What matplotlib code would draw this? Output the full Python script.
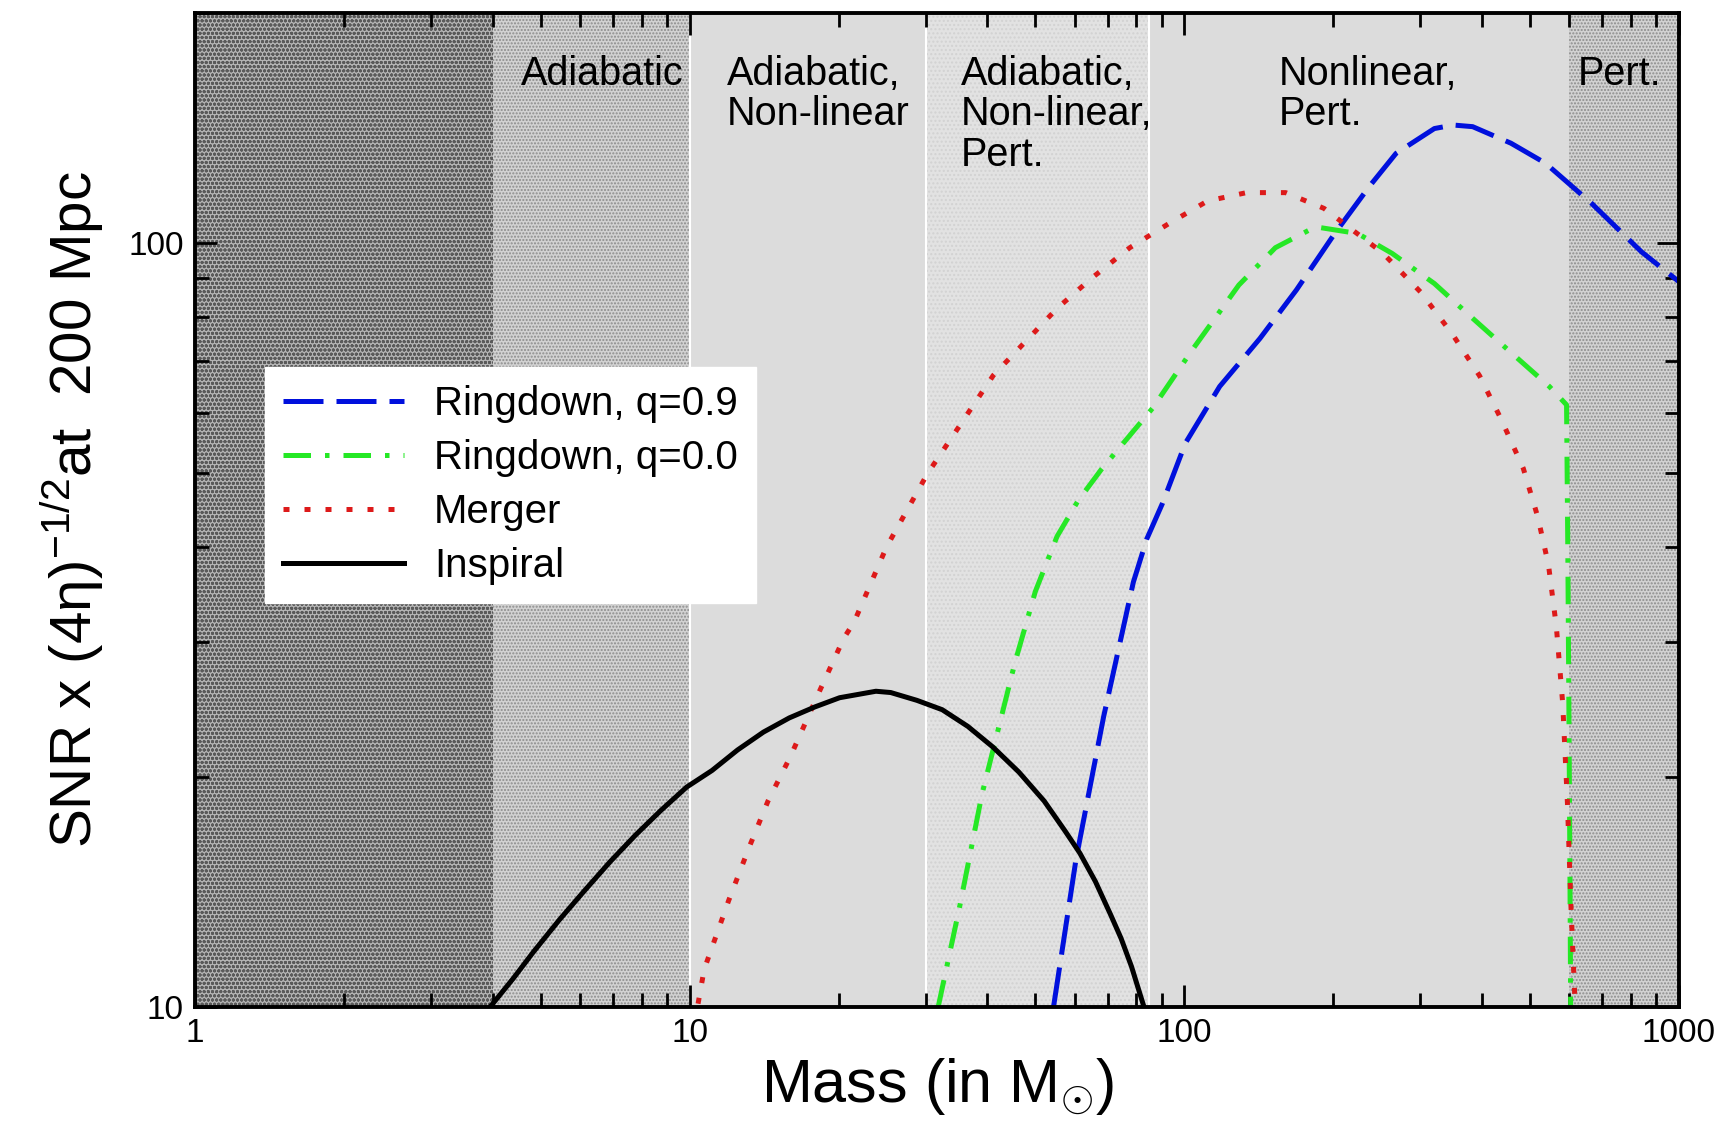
import matplotlib
matplotlib.use("Agg")
import matplotlib.pyplot as plt
from matplotlib.ticker import NullFormatter

plt.rcParams['font.family'] = ['Liberation Sans', 'DejaVu Sans']
plt.rcParams['mathtext.fontset'] = 'custom'
plt.rcParams['mathtext.rm'] = 'Liberation Sans'
plt.rcParams['mathtext.it'] = 'Liberation Sans'
plt.rcParams['hatch.linewidth'] = 1.0

# Inspiral (black solid)
insp_mass = [3.95, 4.40, 4.83, 5.45, 6.13, 6.91, 7.78, 8.76, 9.86, 11.1, 12.5, 14.1, 15.9, 17.9,
             20.1, 23.8, 25.5, 28.8, 32.4, 36.5, 41.0, 46.3, 52.1, 57.4, 61.5, 66.1, 71.0, 74.5,
             78.2, 82.9]
insp_snr = [10.0, 10.9, 11.8, 13.0, 14.2, 15.5, 16.8, 18.1, 19.4, 20.4, 21.7, 22.9, 23.9, 24.7,
            25.4, 25.9, 25.8, 25.2, 24.5, 23.3, 21.9, 20.3, 18.6, 17.0, 15.9, 14.6, 13.2, 12.3,
            11.3, 10.0]

# Merger (red dotted)
merg_mass = [10.4, 10.7, 12.0, 13.2, 14.4, 16.0, 18.3, 20.5, 21.5, 25.0, 30.2, 41.1, 55.3, 64.9,
             77.6, 93.2, 111.4, 133.6, 160.3, 191.6, 251.6, 300.7, 348.7, 395.4, 437.6, 484.5,
             518.3, 544.8, 565, 582, 595, 605, 617]
merg_snr = [10.1, 11.2, 13.8, 16.2, 18.6, 21.3, 25.9, 30.4, 31.9, 40.0, 49.8, 67.1, 82.1, 89.9,
            98.6, 106.1, 113.5, 116.4, 116.4, 111.0, 97.1, 86.2, 75.9, 67.0, 58.7, 50.7,
            43.8, 37.9, 31.5, 25.0, 18.5, 13.5, 10.0]

# Ringdown q=0.0 (green dash-dot)
rd0_mass = [31.8, 35.2, 39.0, 45.5, 50.0, 55.3, 61.0, 67.9, 86.3, 103.2, 128.9, 152.8, 184.1,
            224.2, 263.2, 320.3, 382.8, 457.4, 546.9, 592.6, 596, 599, 602, 604]
rd0_snr = [10.0, 13.6, 19.0, 28.3, 35.0, 41.3, 46.0, 50.5, 60.8, 72.1, 88.1, 98.6, 105.0,
           102.9, 96.9, 88.5, 79.7, 71.9, 64.9, 61.4, 40.0, 25.0, 15.0, 10.0]

# Ringdown q=0.9 (blue dashed)
rd9_mass = [54.4, 60.4, 68.7, 78.9, 84.0, 90.3, 100.5, 117.9, 142.2, 168.5, 201.4, 236.4, 267.9,
            320.3, 349.9, 382.8, 457.4, 537.1, 665.7, 839.5, 1000]
rd9_snr = [10.0, 15.6, 24.0, 36.0, 41.0, 45.6, 54.7, 64.9, 75.0, 86.8, 102.9, 118.5, 131.0,
           141.2, 142.7, 142.0, 135.1, 127.2, 112.7, 97.4, 89.0]

# Regime bands
band_edges = [1, 4, 10, 30, 85, 600, 1000]
band_labels = ["", "Adiabatic", "Adiabatic,\nNon-linear", "Adiabatic,\nNon-linear,\nPert.",
               "Nonlinear,\nPert.", "Pert."]
label_x = [None, 4.55, 11.9, 35.4, 155, 625]

band_face = ['#b4b4b4', '#d2d2d2', '#dcdcdc', '#e2e2e2', '#dcdcdc', '#d2d2d2']
band_hatch = ['oooo', '.....', None, '....', None, '.....']
band_hatch_col = ['#5a5a5a', '#8c8c8c', None, '#d2d2d2', None, '#8c8c8c']

fig = plt.figure(figsize=(17.3, 11.33), dpi=100)
ax = fig.add_axes([0.1127, 0.1112, 0.8578, 0.8773])

for i in range(len(band_edges) - 1):
    ax.axvspan(band_edges[i], band_edges[i + 1], facecolor=band_face[i],
               hatch=band_hatch[i], edgecolor=band_hatch_col[i] or band_face[i],
               linewidth=0, zorder=0)
for xb in [10, 30, 85]:
    ax.axvline(xb, color='white', lw=1.5, zorder=1)

for i, lab in enumerate(band_labels):
    if lab:
        ax.text(label_x[i], 0.958, lab, transform=ax.get_xaxis_transform(),
                ha='left', va='top', fontsize=28.5, linespacing=1.09, zorder=3)

ax.plot(rd9_mass, rd9_snr, color='#0010dd', lw=3.6, dashes=(8, 2.6),
        label='Ringdown, q=0.9', zorder=4)
ax.plot(rd0_mass, rd0_snr, color='#25e825', lw=3.6, dashes=(5.5, 2.8, 0.9, 2.8),
        label='Ringdown, q=0.0', zorder=4)
ax.plot(merg_mass, merg_snr, color='#dd1a1a', lw=3.6, dashes=(1.2, 3.0),
        label='Merger', zorder=4)
ax.plot(insp_mass, insp_snr, color='black', lw=3.6, label='Inspiral', zorder=4)

ax.set_xscale('log')
ax.set_yscale('log')
ax.set_xlim(1, 1000)
ax.set_ylim(10, 200)

ax.set_xticks([1, 10, 100, 1000])
ax.set_xticklabels(['1', '10', '100', '1000'])
ax.set_yticks([10, 100])
ax.set_yticklabels(['10', '100'])
ax.tick_params(which='both', direction='in', top=True, right=True, labelsize=24, width=2)
ax.tick_params(which='major', length=16, pad=8)
ax.tick_params(which='minor', length=10, width=2)
ax.xaxis.set_minor_formatter(NullFormatter())
ax.yaxis.set_minor_formatter(NullFormatter())
for sp in ax.spines.values():
    sp.set_linewidth(2.8)
    sp.set_zorder(5)

ax.set_xlabel(r"Mass (in M$_{\odot}$)", fontsize=44, labelpad=5)
ax.set_ylabel("SNR x (4η)$^{-1/2}$at  200 Mpc", fontsize=42)
ax.yaxis.set_label_coords(-0.060, 0.5)

leg = ax.legend(loc='upper left', bbox_to_anchor=(0.047, 0.644), fontsize=29,
                frameon=True, fancybox=False, handlelength=3.0, handletextpad=0.75,
                borderpad=0.45, labelspacing=0.4, borderaxespad=0)
leg.get_frame().set_edgecolor('white')
leg.get_frame().set_facecolor('white')
leg.get_frame().set_alpha(1)
leg.set_zorder(6)

fig.savefig('out.png', dpi=100)
